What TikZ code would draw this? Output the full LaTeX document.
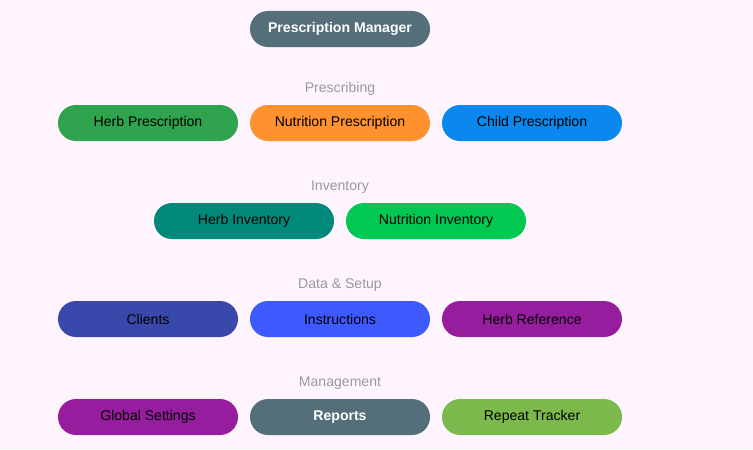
\documentclass[tikz,border=0pt]{standalone}
\usepackage{fontspec}
\setmainfont{Liberation Sans}
\usetikzlibrary{positioning}
\definecolor{bgpink}{HTML}{FDF4FD}
\definecolor{slate}{HTML}{546E7A}
\definecolor{herbgreen}{HTML}{2FA34E}
\definecolor{nutorange}{HTML}{FF922E}
\definecolor{childblue}{HTML}{0A88EE}
\definecolor{invteal}{HTML}{00897B}
\definecolor{invgreen}{HTML}{00C853}
\definecolor{clindigo}{HTML}{3949AB}
\definecolor{instblue}{HTML}{3D5AFE}
\definecolor{refpurple}{HTML}{961E9E}
\definecolor{replime}{HTML}{7CB94C}
\definecolor{secgray}{HTML}{9A9A9A}
\tikzset{
  pill/.style={rectangle, rounded corners=0.45cm, minimum width=4.5cm, minimum height=0.9cm, font=\fontsize{10}{12}\selectfont, text=black},
  darkpill/.style={pill, text=white, font=\fontsize{10}{12}\selectfont\bfseries},
  section/.style={text=secgray, font=\fontsize{10}{12}\selectfont}
}
\begin{document}
\begin{tikzpicture}[x=0.025cm, y=-0.025cm]
    \fill[bgpink] (0,0) rectangle (753,449);
    \useasboundingbox (0,0) rectangle (753,449);

    \node[darkpill, fill=slate] (manager) at (340,29) {Prescription Manager};

    \node[section] (prescribing) at (340,89) {Prescribing};
    \node[pill, fill=herbgreen] (herbrx) at (148,123) {Herb Prescription};
    \node[pill, fill=nutorange] (nutrx) at (340,123) {Nutrition Prescription};
    \node[pill, fill=childblue] (childrx) at (532,123) {Child Prescription};

    \node[section] (inventory) at (340,187) {Inventory};
    \node[pill, fill=invteal] (herbinv) at (244,221) {Herb Inventory};
    \node[pill, fill=invgreen] (nutinv) at (436,221) {Nutrition Inventory};

    \node[section] (setup) at (340,285) {Data \& Setup};
    \node[pill, fill=clindigo] (clients) at (148,319) {Clients};
    \node[pill, fill=instblue] (instructions) at (340,319) {Instructions};
    \node[pill, fill=refpurple] (herbref) at (532,319) {Herb Reference};

    \node[section] (management) at (340,383) {Management};
    \node[pill, fill=refpurple] (settings) at (148,417) {Global Settings};
    \node[darkpill, fill=slate] (reports) at (340,417) {Reports};
    \node[pill, fill=replime] (repeat) at (532,417) {Repeat Tracker};
\end{tikzpicture}
\end{document}
